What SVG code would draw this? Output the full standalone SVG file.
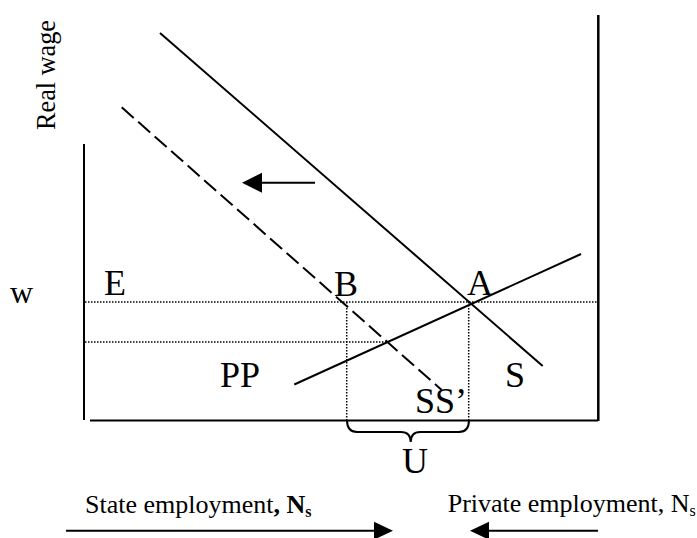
<svg xmlns="http://www.w3.org/2000/svg" width="697" height="538" viewBox="0 0 697 538">
<style>
.ln{stroke:#000;stroke-width:2;fill:none}
.dot{stroke:#000;stroke-width:1.5;stroke-dasharray:1.5 1.5;fill:none}
.big{font-family:"Liberation Serif","Times New Roman",serif;font-size:36px;fill:#000}
.lab{font-family:"Liberation Serif","Times New Roman",serif;font-size:26px;fill:#000}
.head{fill:#000}
</style>
<rect width="697" height="538" fill="#fff"/>
<g id="axes">
<line class="ln" x1="84" y1="144" x2="84" y2="420"/>
<line class="ln" x1="90" y1="420.5" x2="598" y2="420.5"/>
<line class="ln" x1="598.3" y1="15" x2="598.3" y2="421" style="stroke-width:2.5"/>
</g>
<g id="connectors">
<line class="dot" x1="85" y1="302" x2="597" y2="302"/>
<line class="dot" x1="85" y1="342" x2="387" y2="342"/>
<line class="dot" x1="346.7" y1="302" x2="346.7" y2="420"/>
<line class="dot" x1="468.7" y1="302" x2="468.7" y2="420"/>
<line id="S-curve" class="ln" x1="160" y1="33" x2="542.7" y2="366"/>
<line id="SSp-curve" class="ln" x1="121.7" y1="107.3" x2="441.7" y2="390" stroke-dasharray="16 6"/>
<line id="PP-curve" class="ln" x1="294.3" y1="384.5" x2="581" y2="254"/>
<path id="brace" class="ln" d="M347,420 Q347,432 357,432 L401,432 Q410.5,432 410.7,442 Q411,432 420,432 L459,432 Q469,432 469,420"/>
<line class="ln" x1="260" y1="182.7" x2="315" y2="182.7"/>
<polygon class="head" points="242,182.7 262,172.7 262,192.7"/>
<line class="ln" x1="66" y1="530.7" x2="376" y2="530.7"/>
<polygon class="head" points="393,530.7 374,521.7 374,539.7"/>
<line class="ln" x1="486" y1="530.7" x2="598" y2="530.7"/>
<polygon class="head" points="470,530.7 489,521.7 489,539.7"/>
</g>
<g id="labels">
<text class="lab" transform="translate(55,130) rotate(-90)" style="font-size:28px" textLength="110" lengthAdjust="spacingAndGlyphs">Real wage</text>
<text class="lab" x="10" y="303" style="font-size:32px">w</text>
<text class="big" x="104" y="295">E</text>
<text class="big" x="334" y="295.5">B</text>
<text class="big" x="467" y="295">A</text>
<text class="big" x="220" y="387">PP</text>
<text class="big" x="505" y="387">S</text>
<text class="big" x="415" y="413">SS’</text>
<text class="big" x="402" y="473">U</text>
<text class="lab" x="85" y="513">State employment<tspan font-weight="bold">, N</tspan><tspan font-weight="bold" font-size="16" dy="4">s</tspan></text>
<text class="lab" x="447.7" y="512">Private employment, N<tspan font-size="16" dy="4">s</tspan></text>
</g>
</svg>
